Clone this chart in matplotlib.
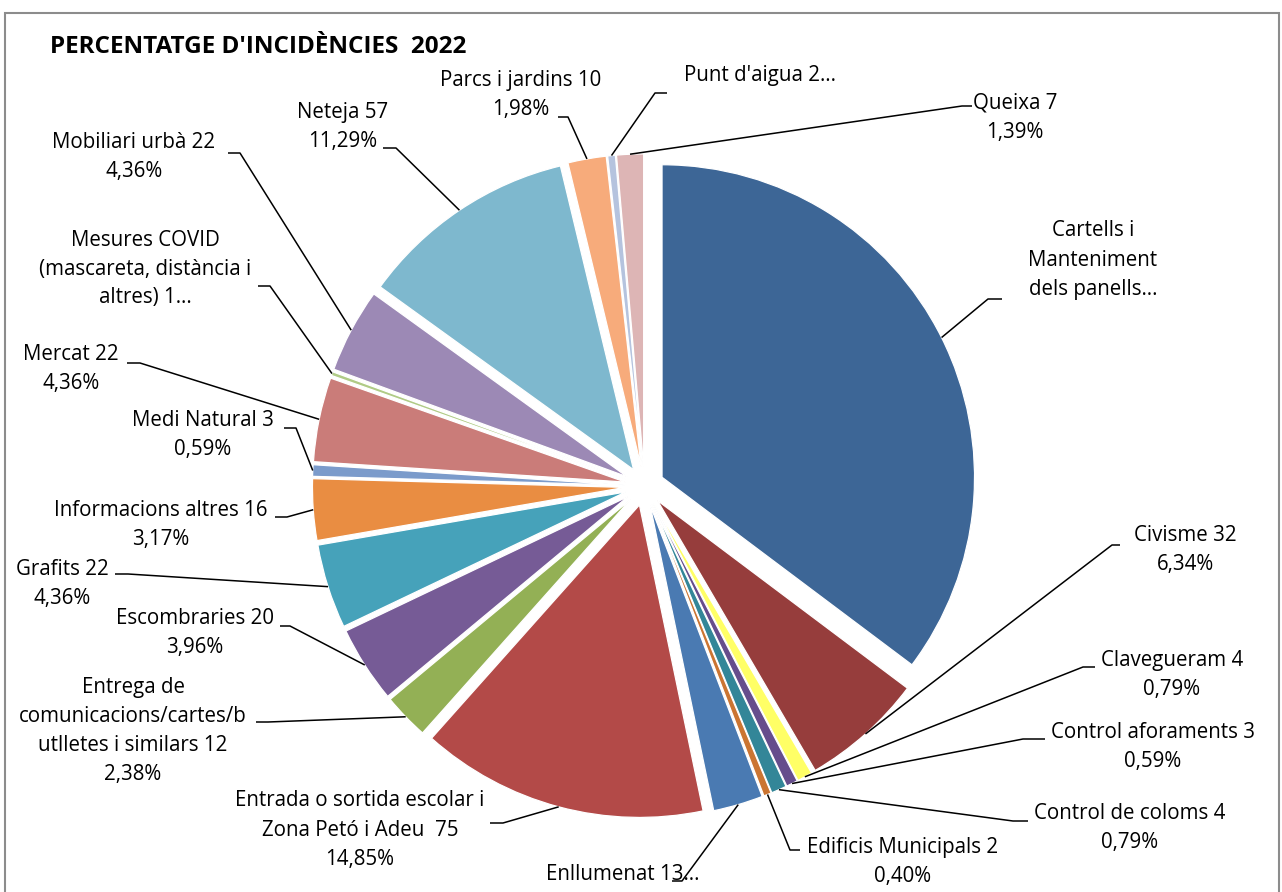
import matplotlib
matplotlib.use("Agg")
import matplotlib.pyplot as plt
from matplotlib.patches import Rectangle
import numpy as np

# ---------------- data ----------------
categories = [
    "Cartells i Manteniment dels panells", "Civisme", "Clavegueram", "Control aforaments",
    "Control de coloms", "Edificis Municipals", "Enllumenat",
    "Entrada o sortida escolar i Zona Petó i Adeu", "Entrega de comunicacions/cartes/butlletes i similars",
    "Escombraries", "Grafits", "Informacions altres", "Medi Natural", "Mercat",
    "Mesures COVID (mascareta, distància i altres)", "Mobiliari urbà", "Neteja",
    "Parcs i jardins", "Punt d'aigua", "Queixa",
]
values = [178, 32, 4, 3, 4, 2, 13, 75, 12, 20, 22, 16, 3, 22, 1, 22, 57, 10, 2, 7]

# displayed label text ({v}=value, {p}=percentage), as wrapped/truncated in the chart
label_templates = [
    "Cartells i\nManteniment\ndels panells…",
    "Civisme {v}\n{p}",
    "Clavegueram {v}\n{p}",
    "Control aforaments {v}\n{p}",
    "Control de coloms {v}\n{p}",
    "Edificis Municipals {v}\n{p}",
    "Enllumenat 13…",
    "Entrada o sortida escolar i\nZona Petó i Adeu  {v}\n{p}",
    "Entrega de\ncomunicacions/cartes/b\nutlletes i similars {v}\n{p}",
    "Escombraries {v}\n{p}",
    "Grafits {v}\n{p}",
    "Informacions altres {v}\n{p}",
    "Medi Natural {v}\n{p}",
    "Mercat {v}\n{p}",
    "Mesures COVID\n(mascareta, distància i\naltres) 1…",
    "Mobiliari urbà {v}\n{p}",
    "Neteja {v}\n{p}",
    "Parcs i jardins {v}\n{p}",
    "Punt d'aigua 2…",
    "Queixa {v}\n{p}",
]
title = "PERCENTATGE D'INCIDÈNCIES  2022"

colors = ['#3D6696', '#963D3C', '#FFFF66', '#664D8C', '#338698', '#CB7532', '#4A7AB2',
          '#B34A48', '#93B055', '#765B96', '#46A2BA', '#E98D42', '#7B9BCB', '#CA7C79',
          '#B0CB86', '#9C89B5', '#7EB8CE', '#F7AB7B', '#B5C3DE', '#DDB5B5']

# ---------------- layout (pixel coordinates of the 1282x892 canvas, y from top) ----------------
W, H = 1282, 892
label_pos = [
    (1093, 260), (1185, 550), (1172, 675), (1153, 747), (1130, 828), (903, 862),
    (623, 874), (360, 830), (133, 731), (195, 633), (62, 584), (161, 525),
    (203, 435), (71, 369), (145, 269), (134, 157), (343, 127), (521, 95),
    (760, 75), (1015, 118),
]
leader_pts = [
    [(1002, 299), (988, 299)],
    [(1120, 545), (1112, 545)],
    [(1095, 667), (1083, 667)],
    [(1045, 739), (1023, 739)],
    [(1028, 821), (1013, 821)],
    [(800, 850), (790, 850)],
    [(672, 881), (682, 881)],
    [(490, 823), (503, 823)],
    [(256, 722), (268, 722)],
    [(280, 626), (290, 626)],
    [(115, 574), (128, 574)],
    [(275, 517), (287, 517)],
    [(284, 428), (296, 428)],
    [(127, 363), (140, 363)],
    [(258, 286), (270, 286)],
    [(228, 153), (240, 153)],
    [(383, 148), (396, 148)],
    [(558, 117), (568, 117)],
    [(667, 93), (655, 93)],
    [(972, 106), (962, 106)],
]

def Y(y):
    return H - y

FONT = ['Open Sans', 'DejaVu Sans']
plt.rcParams['font.family'] = FONT

fig = plt.figure(figsize=(W / 100, H / 100), dpi=100)
ax = fig.add_axes([0, 0, 1, 1])

total = sum(values)
R = 312.5
wedges, _ = ax.pie(values, radius=R, center=(644.5, Y(486)), startangle=90,
                   counterclock=False, colors=colors,
                   explode=[19.6] * len(values),
                   wedgeprops=dict(edgecolor='white', linewidth=0.9))

ax.set_xlim(0, W)
ax.set_ylim(0, H)
ax.set_aspect('equal')
ax.axis('off')

for w, tpl, pos, pts, v in zip(wedges, label_templates, label_pos, leader_pts, values):
    p = f"{v / total * 100:.2f}".replace('.', ',') + "%"
    txt = tpl.format(v=v, p=p)
    ax.text(pos[0], Y(pos[1]), txt, ha='center', va='center', multialignment='center',
            fontsize=14.8, linespacing=1.5, color='black')
    mid = np.deg2rad((w.theta1 + w.theta2) / 2)
    ax_x = w.center[0] + w.r * np.cos(mid)
    ax_y = w.center[1] + w.r * np.sin(mid)
    xs = [q[0] for q in pts] + [ax_x]
    ys = [Y(q[1]) for q in pts] + [ax_y]
    ax.plot(xs, ys, color='black', lw=1.1, solid_capstyle='butt')

ax.text(50, Y(47), title, ha='left', va='center', fontsize=17.5, fontweight='bold')

ax.add_patch(Rectangle((5, Y(895)), 1274, 895 - 13, fill=False, edgecolor='#8C8C8C', lw=1.5))

fig.savefig('out.png', dpi=100)
